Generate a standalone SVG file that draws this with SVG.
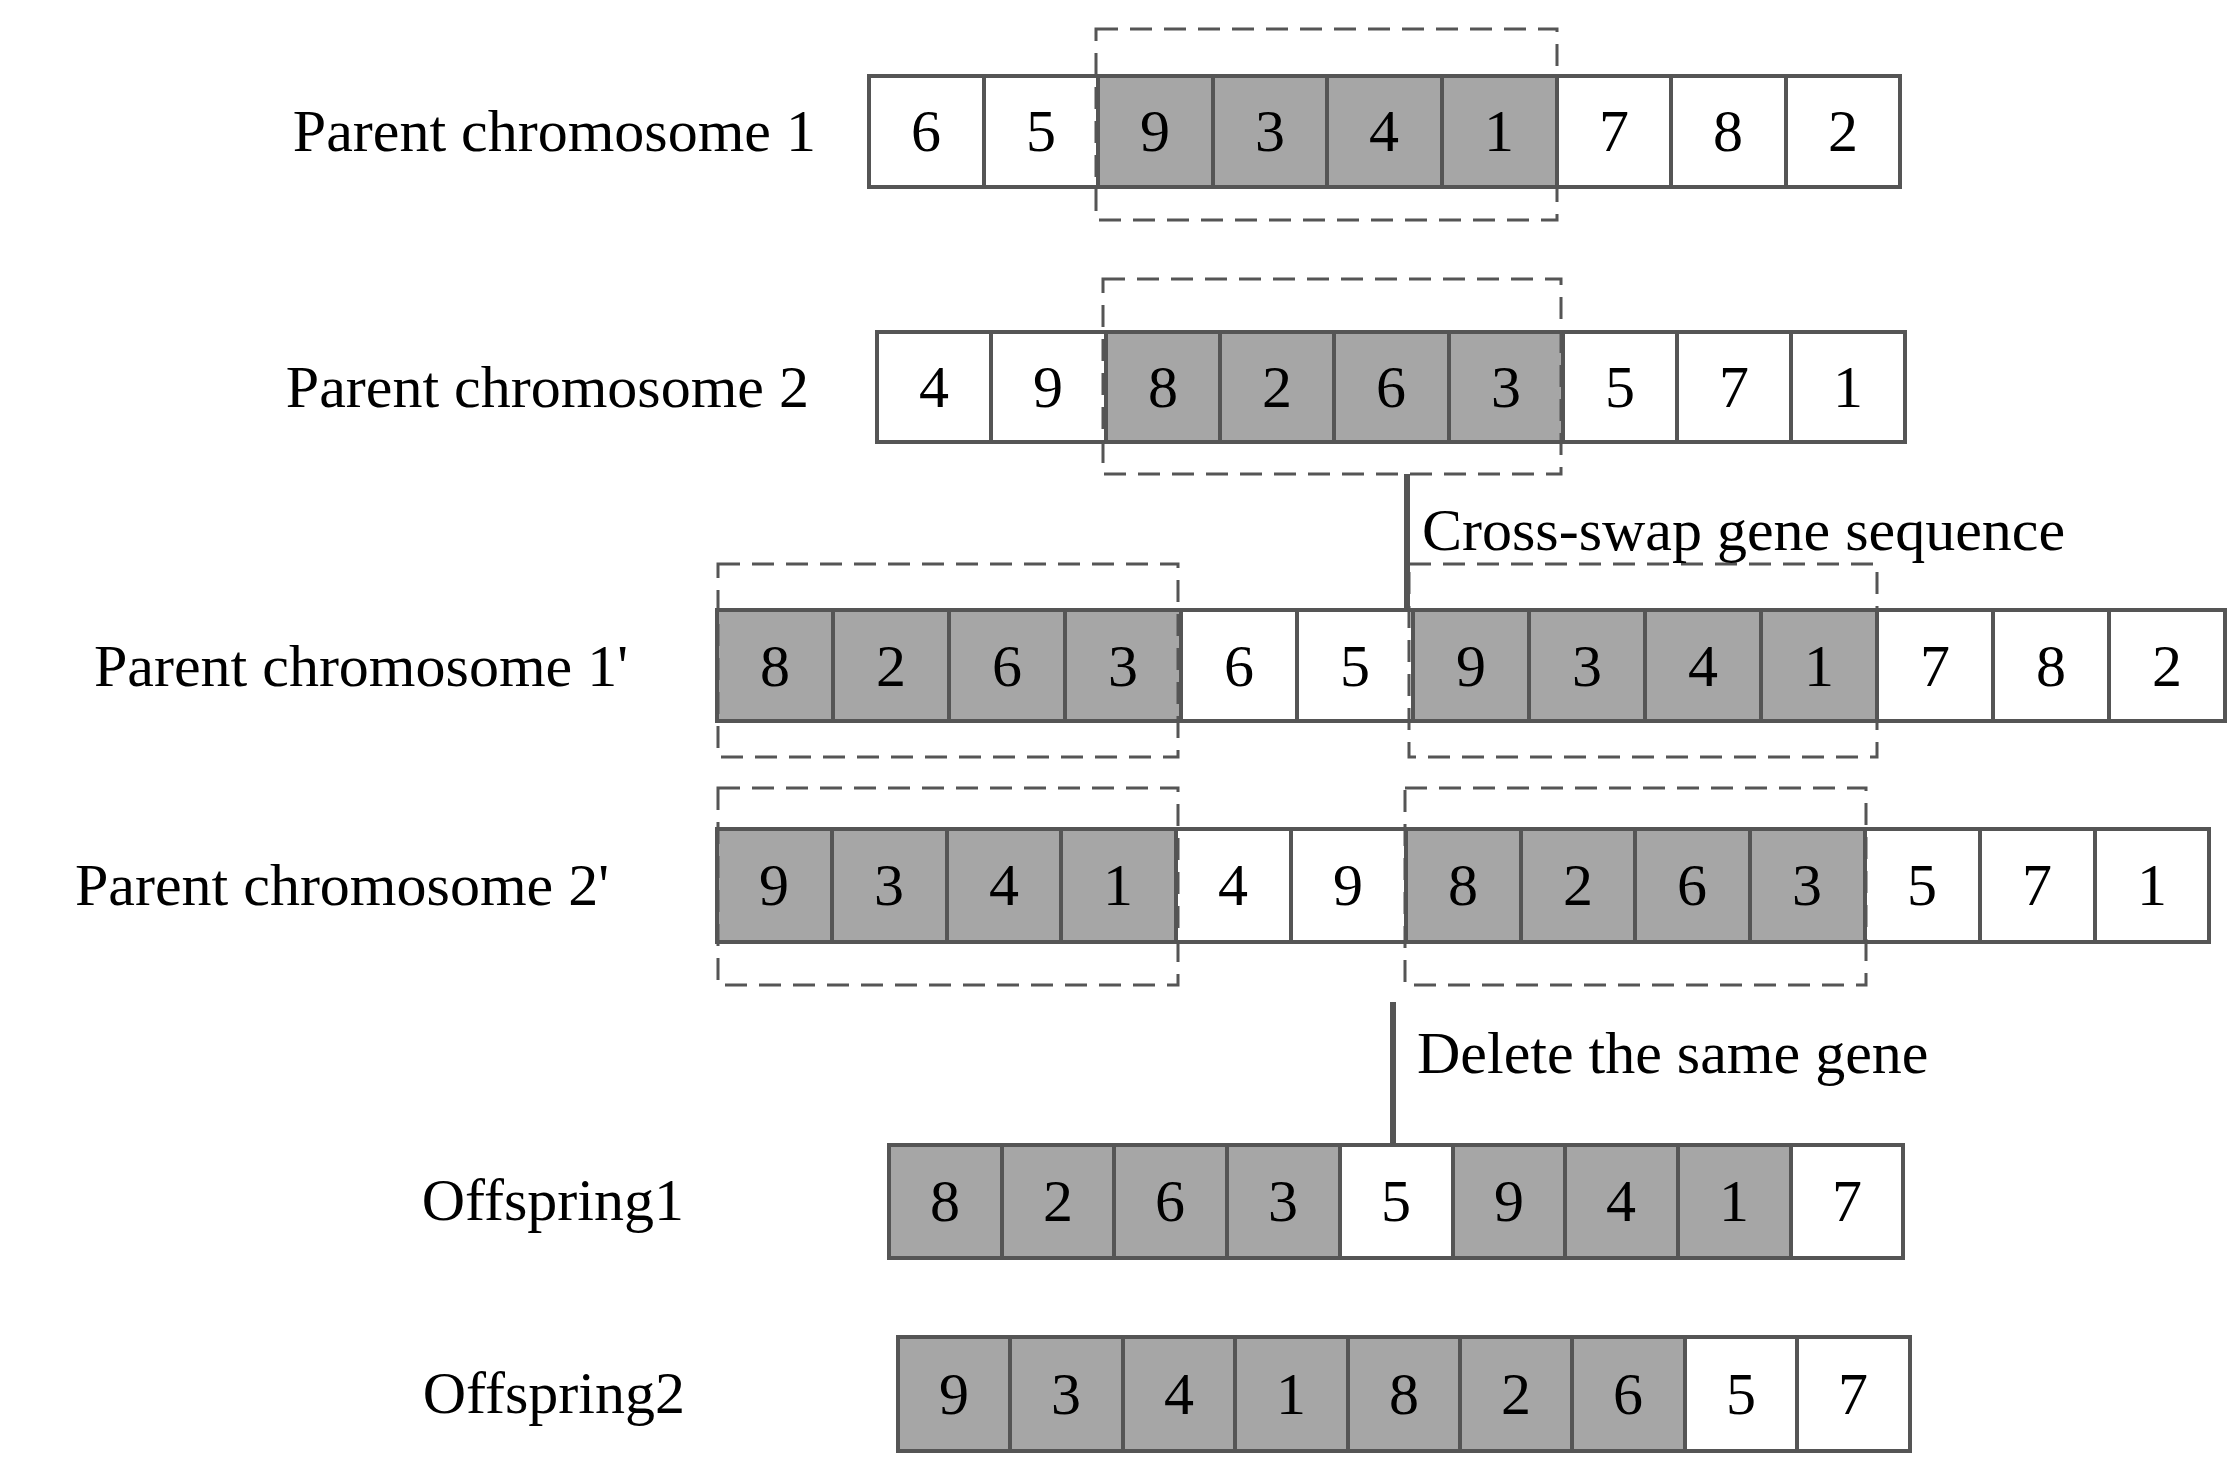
<svg xmlns="http://www.w3.org/2000/svg" width="2229" height="1465" viewBox="0 0 2229 1465">
<style>
.g{fill:#a6a6a6;stroke:#555;stroke-width:4}
.w{fill:#fff;stroke:#555;stroke-width:4}
.d{fill:none;stroke:#555;stroke-width:3;stroke-dasharray:22 12}
text{font-family:"Liberation Serif",serif;font-size:60px;fill:#000}
.n{text-anchor:middle;dominant-baseline:central}
.l{text-anchor:end;dominant-baseline:central}
</style>
<defs><marker id="ah" viewBox="0 0 10 10" refX="9" refY="5" markerWidth="6" markerHeight="8" markerUnits="userSpaceOnUse" orient="auto"><path d="M0,0 L10,5 L0,10 z" fill="#555"/></marker></defs>
<rect width="2229" height="1465" fill="#fff"/>
<g id="row1">
<text class="l" x="816" y="131">Parent chromosome 1</text>
<rect class="w" x="869" y="76" width="115" height="111"/><text class="n" x="926" y="131">6</text>
<rect class="w" x="984" y="76" width="114" height="111"/><text class="n" x="1041" y="131">5</text>
<rect class="g" x="1098" y="76" width="115" height="111"/><text class="n" x="1155" y="131">9</text>
<rect class="g" x="1213" y="76" width="114" height="111"/><text class="n" x="1270" y="131">3</text>
<rect class="g" x="1327" y="76" width="115" height="111"/><text class="n" x="1384" y="131">4</text>
<rect class="g" x="1442" y="76" width="115" height="111"/><text class="n" x="1499" y="131">1</text>
<rect class="w" x="1557" y="76" width="114" height="111"/><text class="n" x="1614" y="131">7</text>
<rect class="w" x="1671" y="76" width="115" height="111"/><text class="n" x="1728" y="131">8</text>
<rect class="w" x="1786" y="76" width="114" height="111"/><text class="n" x="1843" y="131">2</text>
<rect class="d" x="1096" y="29" width="461" height="191"/>
</g>
<g id="row2">
<text class="l" x="809" y="387">Parent chromosome 2</text>
<rect class="w" x="877" y="332" width="114" height="110"/><text class="n" x="934" y="387">4</text>
<rect class="w" x="991" y="332" width="115" height="110"/><text class="n" x="1048" y="387">9</text>
<rect class="g" x="1106" y="332" width="114" height="110"/><text class="n" x="1163" y="387">8</text>
<rect class="g" x="1220" y="332" width="114" height="110"/><text class="n" x="1277" y="387">2</text>
<rect class="g" x="1334" y="332" width="115" height="110"/><text class="n" x="1391" y="387">6</text>
<rect class="g" x="1449" y="332" width="114" height="110"/><text class="n" x="1506" y="387">3</text>
<rect class="w" x="1563" y="332" width="114" height="110"/><text class="n" x="1620" y="387">5</text>
<rect class="w" x="1677" y="332" width="114" height="110"/><text class="n" x="1734" y="387">7</text>
<rect class="w" x="1791" y="332" width="114" height="110"/><text class="n" x="1848" y="387">1</text>
<rect class="d" x="1103" y="279" width="458" height="195"/>
</g>
<g id="row3">
<text class="l" x="628" y="666">Parent chromosome 1'</text>
<rect class="g" x="717" y="610" width="116" height="111"/><text class="n" x="775" y="666">8</text>
<rect class="g" x="833" y="610" width="116" height="111"/><text class="n" x="891" y="666">2</text>
<rect class="g" x="949" y="610" width="116" height="111"/><text class="n" x="1007" y="666">6</text>
<rect class="g" x="1065" y="610" width="116" height="111"/><text class="n" x="1123" y="666">3</text>
<rect class="w" x="1181" y="610" width="116" height="111"/><text class="n" x="1239" y="666">6</text>
<rect class="w" x="1297" y="610" width="116" height="111"/><text class="n" x="1355" y="666">5</text>
<rect class="g" x="1413" y="610" width="116" height="111"/><text class="n" x="1471" y="666">9</text>
<rect class="g" x="1529" y="610" width="116" height="111"/><text class="n" x="1587" y="666">3</text>
<rect class="g" x="1645" y="610" width="116" height="111"/><text class="n" x="1703" y="666">4</text>
<rect class="g" x="1761" y="610" width="116" height="111"/><text class="n" x="1819" y="666">1</text>
<rect class="w" x="1877" y="610" width="116" height="111"/><text class="n" x="1935" y="666">7</text>
<rect class="w" x="1993" y="610" width="116" height="111"/><text class="n" x="2051" y="666">8</text>
<rect class="w" x="2109" y="610" width="116" height="111"/><text class="n" x="2167" y="666">2</text>
<rect class="d" x="718" y="564" width="460" height="193"/>
<rect class="d" x="1409" y="564" width="468" height="193"/>
</g>
<g id="row4">
<text class="l" x="609" y="885">Parent chromosome 2'</text>
<rect class="g" x="717" y="829" width="115" height="113"/><text class="n" x="774" y="885">9</text>
<rect class="g" x="832" y="829" width="115" height="113"/><text class="n" x="889" y="885">3</text>
<rect class="g" x="947" y="829" width="114" height="113"/><text class="n" x="1004" y="885">4</text>
<rect class="g" x="1061" y="829" width="115" height="113"/><text class="n" x="1118" y="885">1</text>
<rect class="w" x="1176" y="829" width="115" height="113"/><text class="n" x="1233" y="885">4</text>
<rect class="w" x="1291" y="829" width="115" height="113"/><text class="n" x="1348" y="885">9</text>
<rect class="g" x="1406" y="829" width="115" height="113"/><text class="n" x="1463" y="885">8</text>
<rect class="g" x="1521" y="829" width="114" height="113"/><text class="n" x="1578" y="885">2</text>
<rect class="g" x="1635" y="829" width="115" height="113"/><text class="n" x="1692" y="885">6</text>
<rect class="g" x="1750" y="829" width="115" height="113"/><text class="n" x="1807" y="885">3</text>
<rect class="w" x="1865" y="829" width="115" height="113"/><text class="n" x="1922" y="885">5</text>
<rect class="w" x="1980" y="829" width="115" height="113"/><text class="n" x="2037" y="885">7</text>
<rect class="w" x="2095" y="829" width="114" height="113"/><text class="n" x="2152" y="885">1</text>
<rect class="d" x="718" y="788" width="460" height="197"/>
<rect class="d" x="1405" y="788" width="461" height="197"/>
</g>
<g id="offspring1">
<text class="l" x="684" y="1200">Offspring1</text>
<rect class="g" x="889" y="1145" width="113" height="113"/><text class="n" x="945" y="1201">8</text>
<rect class="g" x="1002" y="1145" width="112" height="113"/><text class="n" x="1058" y="1201">2</text>
<rect class="g" x="1114" y="1145" width="113" height="113"/><text class="n" x="1170" y="1201">6</text>
<rect class="g" x="1227" y="1145" width="113" height="113"/><text class="n" x="1283" y="1201">3</text>
<rect class="w" x="1340" y="1145" width="113" height="113"/><text class="n" x="1396" y="1201">5</text>
<rect class="g" x="1453" y="1145" width="112" height="113"/><text class="n" x="1509" y="1201">9</text>
<rect class="g" x="1565" y="1145" width="113" height="113"/><text class="n" x="1621" y="1201">4</text>
<rect class="g" x="1678" y="1145" width="113" height="113"/><text class="n" x="1734" y="1201">1</text>
<rect class="w" x="1791" y="1145" width="112" height="113"/><text class="n" x="1847" y="1201">7</text>
</g>
<g id="offspring2">
<text class="l" x="685" y="1393">Offspring2</text>
<rect class="g" x="898" y="1337" width="112" height="114"/><text class="n" x="954" y="1394">9</text>
<rect class="g" x="1010" y="1337" width="113" height="114"/><text class="n" x="1066" y="1394">3</text>
<rect class="g" x="1123" y="1337" width="112" height="114"/><text class="n" x="1179" y="1394">4</text>
<rect class="g" x="1235" y="1337" width="113" height="114"/><text class="n" x="1291" y="1394">1</text>
<rect class="g" x="1348" y="1337" width="112" height="114"/><text class="n" x="1404" y="1394">8</text>
<rect class="g" x="1460" y="1337" width="112" height="114"/><text class="n" x="1516" y="1394">2</text>
<rect class="g" x="1572" y="1337" width="113" height="114"/><text class="n" x="1628" y="1394">6</text>
<rect class="w" x="1685" y="1337" width="112" height="114"/><text class="n" x="1741" y="1394">5</text>
<rect class="w" x="1797" y="1337" width="113" height="114"/><text class="n" x="1853" y="1394">7</text>
</g>
<g id="connectors">
<line x1="1407" y1="474" x2="1407" y2="609" stroke="#555" stroke-width="6" marker-end="url(#ah)"/>
<text x="1422" y="550">Cross-swap gene sequence</text>
<line x1="1393" y1="1002" x2="1393" y2="1143" stroke="#555" stroke-width="6" marker-end="url(#ah)"/>
<text x="1417" y="1073">Delete the same gene</text>
</g>
</svg>
